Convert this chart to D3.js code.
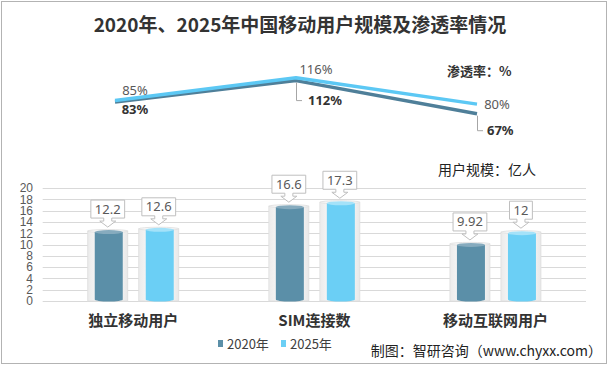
<!DOCTYPE html>
<html><head><meta charset="utf-8">
<script src="https://cdn.jsdelivr.net/npm/d3@7"></script>
<style>
html,body{margin:0;padding:0;background:#fff;}
svg{display:block;font-family:"Noto Sans CJK SC","Noto Sans",sans-serif;}
</style></head>
<body><svg id="c" width="609" height="366"></svg>
<script>
const categories = ["独立移动用户", "SIM连接数", "移动互联网用户"];
const seriesNames = ["2020年", "2025年"];
const users2020 = [12.2, 16.6, 9.92];
const users2025 = [12.6, 17.3, 12];
const rate2020 = [83, 112, 67];
const rate2025 = [85, 116, 80];
const yTicks = [0, 2, 4, 6, 8, 10, 12, 14, 16, 18, 20];

const colors = {"2020年": "#5b8fa8", "2025年": "#6bcff5"};
const topColors = {"2020年": "#86abbe", "2025年": "#a4e2f9"};
const lineColors = {"2020年": "#4f7f99", "2025年": "#5cc8f4"};

const svg = d3.select("#c");
svg.append("rect").attr("x", 1.5).attr("y", 1.5).attr("width", 605).attr("height", 362)
  .attr("fill", "#fff").attr("stroke", "#b3b3b3").attr("stroke-width", 1);

svg.append("text").attr("x", 300).attr("y", 32).attr("text-anchor", "middle")
  .attr("font-size", 19).attr("font-weight", "bold").attr("fill", "#333")
  .text("2020年、2025年中国移动用户规模及渗透率情况");

// scales
const x0 = d3.scaleBand().domain(categories).range([42.7, 586]).padding(0);
const x1 = d3.scaleBand().domain(seriesNames)
  .range([x0.bandwidth() / 2 - 51, x0.bandwidth() / 2 + 51]);
const y = d3.scaleLinear().domain([0, 20]).range([301, 188]);

// grid
const grid = svg.append("g");
grid.selectAll("line").data(yTicks).join("line")
  .attr("x1", 42.7).attr("x2", 586)
  .attr("y1", d => Math.round(y(d)) + 0.5).attr("y2", d => Math.round(y(d)) + 0.5)
  .attr("stroke", "#d9d9d9").attr("stroke-width", 1);

const yAxis = d3.axisLeft(y).tickValues(yTicks).tickSize(0).tickPadding(0);
const gy = svg.append("g").attr("transform", "translate(33,0)").call(yAxis);
gy.select(".domain").remove();
gy.selectAll("text").attr("font-size", 12).attr("fill", "#595959")
  .attr("font-family", "'Liberation Sans','Noto Sans',sans-serif");

// gradients
const defs = svg.append("defs");
const gg = defs.append("linearGradient").attr("id", "glass").attr("x1", 0).attr("x2", 1).attr("y1", 0).attr("y2", 0);
gg.append("stop").attr("offset", "0%").attr("stop-color", "#ebebeb");
gg.append("stop").attr("offset", "25%").attr("stop-color", "#f7f7f7");
gg.append("stop").attr("offset", "80%").attr("stop-color", "#f4f4f4");
gg.append("stop").attr("offset", "100%").attr("stop-color", "#e8e8e8");

const barData = [];
categories.forEach((c, i) => {
  barData.push({cat: c, s: "2020年", v: users2020[i]});
  barData.push({cat: c, s: "2025年", v: users2025[i]});
});
const cx = d => x0(d.cat) + x1(d.s) + x1.bandwidth() / 2;

const bars = svg.append("g").selectAll("g").data(barData).join("g");
// glass background
bars.append("rect")
  .attr("x", d => cx(d) - 20).attr("y", d => y(d.v) - 1)
  .attr("width", 40).attr("height", d => y(0) - y(d.v) + 1)
  .attr("fill", "url(#glass)").attr("stroke", "#dedede").attr("stroke-width", 0.8);
bars.append("ellipse")
  .attr("cx", d => cx(d)).attr("cy", d => y(d.v) - 1).attr("rx", 20).attr("ry", 1.6)
  .attr("fill", "#f6f6f6").attr("stroke", "#dedede").attr("stroke-width", 0.8);
// liquid
bars.append("path")
  .attr("d", d => {
    const l = cx(d) - 13, r = cx(d) + 15, t = y(d.v), b = y(0);
    return `M${l},${t} L${r},${t} L${r},${b - 1.5} A14,2 0 0 1 ${l},${b - 1.5} Z`;
  })
  .attr("fill", d => colors[d.s]);
bars.append("ellipse")
  .attr("cx", d => cx(d) + 1).attr("cy", d => y(d.v)).attr("rx", 14).attr("ry", 2)
  .attr("fill", d => topColors[d.s]);

// callouts
bars.each(function(d) {
  const g = d3.select(this);
  const tipY = y(d.v) - 5;
  const c = cx(d);
  const t = g.append("text").attr("x", c).attr("text-anchor", "middle")
    .attr("font-size", 13).attr("fill", "#595959")
    .attr("font-family", "'Noto Sans','Noto Sans CJK SC',sans-serif")
    .text(d.v);
  const w = t.node().getComputedTextLength() + 8;
  const bb = tipY - 9, bt = bb - 18;
  const p = `M${c - w / 2},${bt} H${c + w / 2} V${bb} H${c + 4} V${bb + 3} H${c + 8} L${c},${tipY} L${c - 8},${bb + 3} H${c - 4} V${bb} H${c - w / 2} Z`;
  g.insert("path", "text").attr("d", p).attr("fill", "#fff").attr("stroke", "#bfbfbf").attr("stroke-width", 1);
  t.attr("y", bt + 13.5);
});

// category labels
svg.append("g").selectAll("text").data(categories).join("text")
  .attr("x", d => x0(d) + x0.bandwidth() / 2).attr("y", 326)
  .attr("text-anchor", "middle").attr("font-size", 15).attr("font-weight", "bold")
  .attr("fill", "#333").text(d => d);

// line chart
const xl = d3.scalePoint().domain(categories).range([115, 477]);
const yl = d3.scaleLinear().domain([0, 140]).range([163, 60]);
const line = d3.line().x((d, i) => xl(categories[i])).y(d => yl(d));

svg.append("path").datum(rate2020).attr("d", line).attr("fill", "none")
  .attr("stroke", lineColors["2020年"]).attr("stroke-width", 3.5).attr("stroke-linejoin", "round");
svg.append("path").datum(rate2025).attr("d", line).attr("fill", "none")
  .attr("stroke", lineColors["2025年"]).attr("stroke-width", 3.5).attr("stroke-linejoin", "round");

// 2025 labels
const lab25 = svg.append("g").attr("font-size", 13).attr("fill", "#595959")
  .attr("font-family", "'Noto Sans','Noto Sans CJK SC',sans-serif");
rate2025.forEach((v, i) => {
  const px = xl(categories[i]), py = yl(v);
  let tx, ty;
  if (i === 0) { tx = px + 20; ty = py - 10; }
  else if (i === 1) { tx = px + 20; ty = py - 8; }
  else { tx = px + 20; ty = py; }
  lab25.append("text").attr("x", tx).attr("y", ty + 4.5).attr("text-anchor", "middle").text(v + "%");
});
// 2020 labels
const lab20 = svg.append("g").attr("font-size", 13).attr("font-weight", "bold").attr("fill", "#333")
  .attr("font-family", "'Noto Sans','Noto Sans CJK SC',sans-serif");
rate2020.forEach((v, i) => {
  const px = xl(categories[i]), py = yl(v);
  if (i === 0) {
    lab20.append("text").attr("x", px + 20).attr("y", py + 12.5).attr("text-anchor", "middle").text(v + "%");
  } else {
    const ly = i === 1 ? py + 20 : py + 17;
    svg.append("path").attr("d", `M${px + 0.5},${py + 2} V${ly} H${px + 6}`)
      .attr("fill", "none").attr("stroke", "#a6a6a6").attr("stroke-width", 1);
    lab20.append("text").attr("x", px + (i === 1 ? 12 : 10)).attr("y", ly + 4.5).text(v + "%");
  }
});

svg.append("text").attr("x", 447).attr("y", 76).attr("font-size", 13).attr("font-weight", "bold")
  .attr("fill", "#333").text("渗透率：%");
svg.append("text").attr("x", 438).attr("y", 175).attr("font-size", 14)
  .attr("fill", "#222").text("用户规模：亿人");

// legend
const leg = svg.append("g");
seriesNames.forEach((s, i) => {
  const lx = 218 + i * 63;
  leg.append("rect").attr("x", lx).attr("y", 340).attr("width", 5).attr("height", 7).attr("fill", colors[s]);
  leg.append("text").attr("x", lx + 9).attr("y", 348.5).attr("font-size", 13).attr("fill", "#404040").text(s);
});

svg.append("text").attr("x", 602).attr("y", 356).attr("text-anchor", "end")
  .attr("font-size", 14).attr("fill", "#222").text("制图：智研咨询（www.chyxx.com）");
</script></body></html>
